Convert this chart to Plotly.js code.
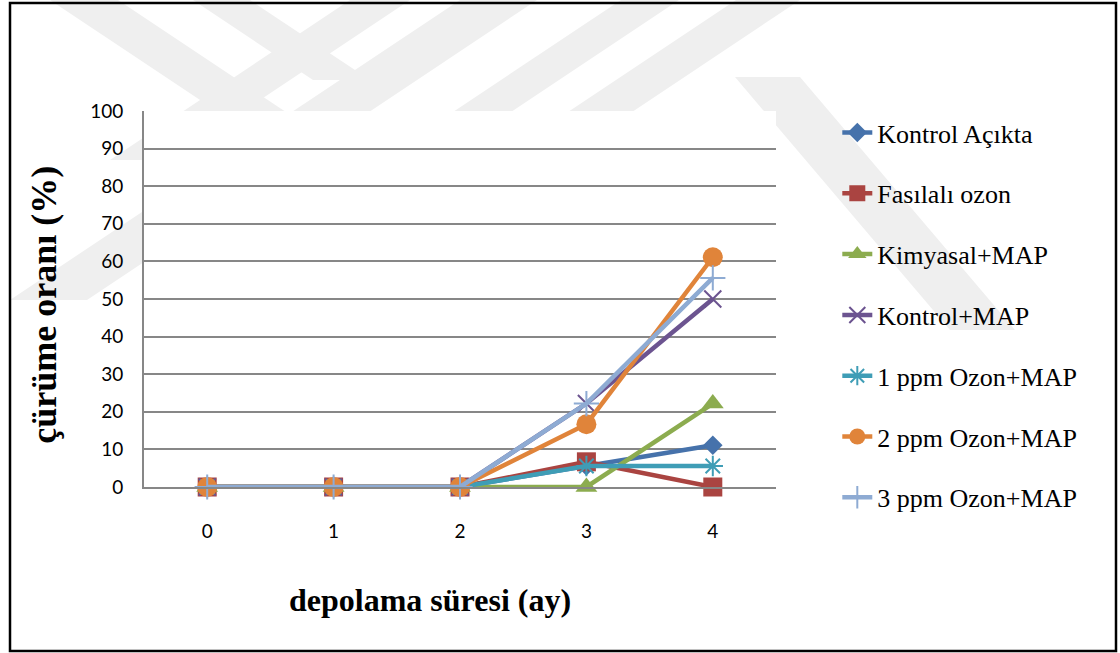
<!DOCTYPE html>
<html>
<head>
<meta charset="utf-8">
<script src="https://cdn.plot.ly/plotly-3.0.1.min.js"></script>
<style>
  html, body { margin: 0; padding: 0; background: #ffffff; }
  #wrap { position: relative; width: 1120px; height: 653px; overflow: hidden; }
  #bg, #chart { position: absolute; left: 0; top: 0; width: 1120px; height: 653px; }
</style>
</head>
<body>
<div id="wrap">
  <svg id="bg" width="1120" height="653" viewBox="0 0 1120 653">
    <g fill="#efefef">
      <polygon points="50,0 118,0 358,160 290,160"/>
      <polygon points="193,0 250,0 370,80 313,80"/>
      <polygon points="350,0 410,0 170,160 110,160"/>
      <polygon points="460,0 537,0 87,300 10,300"/>
      <polygon points="621,0 679,0 400,186 342,186"/>
      <polygon points="736,0 800,0 500,200 436,200"/>
      <polygon points="735,77 800,77 1015,330 950,330"/>
    </g>
    <rect x="10" y="3" width="1106" height="648" fill="none" stroke="#000000" stroke-width="2.5"/>
  </svg>
  <div id="chart"></div>
</div>
<script>
// storage time in months
const months = ['0', '1', '2', '3', '4'];

// decay rate (%) per treatment
const kontrolAcikta = [0, 0, 0, 5.6, 11.1];
const fasilaliOzon  = [0, 0, 0, 6.7, 0];
const kimyasalMAP   = [0, 0, 0, 0, 22.2];
const kontrolMAP    = [0, 0, 0, 22.2, 50];
const ozon1MAP      = [0, 0, 0, 5.6, 5.6];
const ozon2MAP      = [0, 0, 0, 16.7, 61.1];
const ozon3MAP      = [0, 0, 0, 22.2, 55.6];

const seriesNames = ['Kontrol Açıkta', 'Fasılalı ozon', 'Kimyasal+MAP', 'Kontrol+MAP',
                     '1 ppm Ozon+MAP', '2 ppm Ozon+MAP', '3 ppm Ozon+MAP'];
const seriesValues = [kontrolAcikta, fasilaliOzon, kimyasalMAP, kontrolMAP, ozon1MAP, ozon2MAP, ozon3MAP];

const styles = [
  { color: '#4672ab', symbol: 'diamond',         size: 15, mline: 0 },
  { color: '#aa4441', symbol: 'square',          size: 19, mline: 0 },
  { color: '#8cac4f', symbol: 'triangle-up',     size: 19, mline: 0 },
  { color: '#6c5490', symbol: 'x-thin-open',     size: 17, mline: 2 },
  { color: '#3f9db6', symbol: 'asterisk-open',   size: 17, mline: 2 },
  { color: '#e0843a', symbol: 'circle',          size: 20, mline: 0 },
  { color: '#8eabd3', symbol: 'cross-thin-open', size: 18, mline: 2 }
];

const traces = seriesNames.map((name, i) => ({
  type: 'scatter',
  mode: 'lines+markers',
  name: name,
  legendgroup: 'g' + i,
  x: months,
  y: seriesValues[i],
  cliponaxis: false,
  line: { color: styles[i].color, width: 4.5 },
  marker: {
    symbol: styles[i].symbol,
    size: styles[i].size,
    color: styles[i].color,
    line: { color: styles[i].color, width: styles[i].mline }
  }
}));

const gridGray = '#878787';
const serif = 'Liberation Serif, Times New Roman, serif';
const sans = 'Lato, Open Sans, sans-serif';

const layout = {
  width: 1120,
  height: 653,
  margin: { l: 144, r: 344, t: 111, b: 166 },
  paper_bgcolor: 'rgba(0,0,0,0)',
  plot_bgcolor: '#ffffff',
  showlegend: true,
  legend: {
    x: 1.097, xref: 'paper', xanchor: 'left',
    y: 1.005, yanchor: 'top',
    maxheight: 600,
    bgcolor: 'rgba(0,0,0,0)',
    font: { family: serif, size: 26, color: '#000000' },
    tracegroupgap: 24,
    itemwidth: 30
  },
  xaxis: {
    type: 'category',
    range: [-0.5, 4.5],
    showgrid: false,
    zeroline: false,
    showline: true,
    linecolor: gridGray,
    linewidth: 2,
    ticks: '',
    ticklabelstandoff: 26,
    tickfont: { family: sans, size: 19, color: '#000000' },
    fixedrange: true
  },
  yaxis: {
    range: [0, 100],
    dtick: 10,
    showgrid: true,
    gridcolor: gridGray,
    gridwidth: 2,
    zeroline: false,
    showline: true,
    linecolor: gridGray,
    linewidth: 2,
    ticks: '',
    ticklabelstandoff: 15,
    tickfont: { family: sans, size: 19, color: '#000000' },
    fixedrange: true
  },
  annotations: [
    {
      text: 'çürüme oranı (%)',
      xref: 'paper', yref: 'paper',
      x: 0, y: 0.485,
      xanchor: 'center', yanchor: 'middle',
      xshift: -100,
      textangle: -90,
      showarrow: false,
      font: { family: serif, size: 36, color: '#000000', weight: 'bold' }
    },
    {
      text: 'depolama süresi (ay)',
      xref: 'paper', yref: 'paper',
      x: 0.5, y: 0,
      xanchor: 'center', yanchor: 'middle',
      xshift: -30, yshift: -113,
      showarrow: false,
      font: { family: serif, size: 32, color: '#000000', weight: 'bold' }
    }
  ]
};

Plotly.newPlot('chart', traces, layout, { displayModeBar: false, staticPlot: true });
</script>
</body>
</html>
